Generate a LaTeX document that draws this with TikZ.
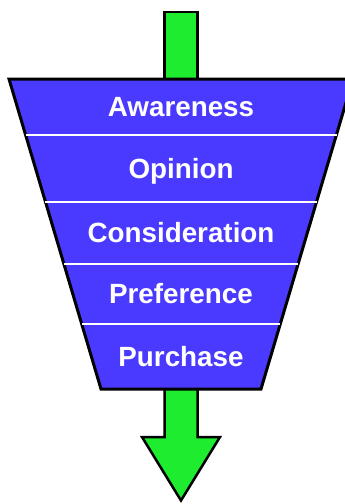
\documentclass[tikz,border=0pt]{standalone}
\usepackage{fontspec}
\setmainfont{Liberation Sans}
\definecolor{funnelblue}{RGB}{74,58,255}
\definecolor{arrowgreen}{RGB}{30,236,46}

\begin{document}
\begin{tikzpicture}[x=1pt,y=-1pt,
    stage/.style={text=white,font=\fontsize{27.8}{28}\selectfont\bfseries,anchor=base,inner sep=0pt},
    divider/.style={white,line width=2pt},
    greenarrow/.style={fill=arrowgreen,draw=black,line width=2.5pt,line join=miter}]
    \clip (0,0) rectangle (345,504);
    % arrow going in and coming out
    \draw[greenarrow] (164.5,12) rectangle (197.5,90);
    \draw[greenarrow] (164.5,385) -- (197.5,385) -- (197.5,437) -- (220,437) -- (181,500.5) -- (142,437) -- (164.5,437) -- cycle;
    % the funnel
    \draw[fill=funnelblue,line width=3pt,line join=miter] (9,79) -- (353,79) -- (261,389) -- (101,389) -- cycle;
    \draw[divider] (25.5,134.5) -- (336.5,134.5);
    \draw[divider] (45.4,201.5) -- (316.6,201.5);
    \draw[divider] (63.8,263.5) -- (298.2,263.5);
    \draw[divider] (81.7,324) -- (280.3,324);
    % stages
    \node[stage] (awareness) at (181,116.5) {Awareness};
    \node[stage] (opinion) at (181,178) {Opinion};
    \node[stage] (consideration) at (181,242.5) {Consideration};
    \node[stage] (preference) at (181,303.5) {Preference};
    \node[stage] (purchase) at (181,366.5) {Purchase};
\end{tikzpicture}
\end{document}
